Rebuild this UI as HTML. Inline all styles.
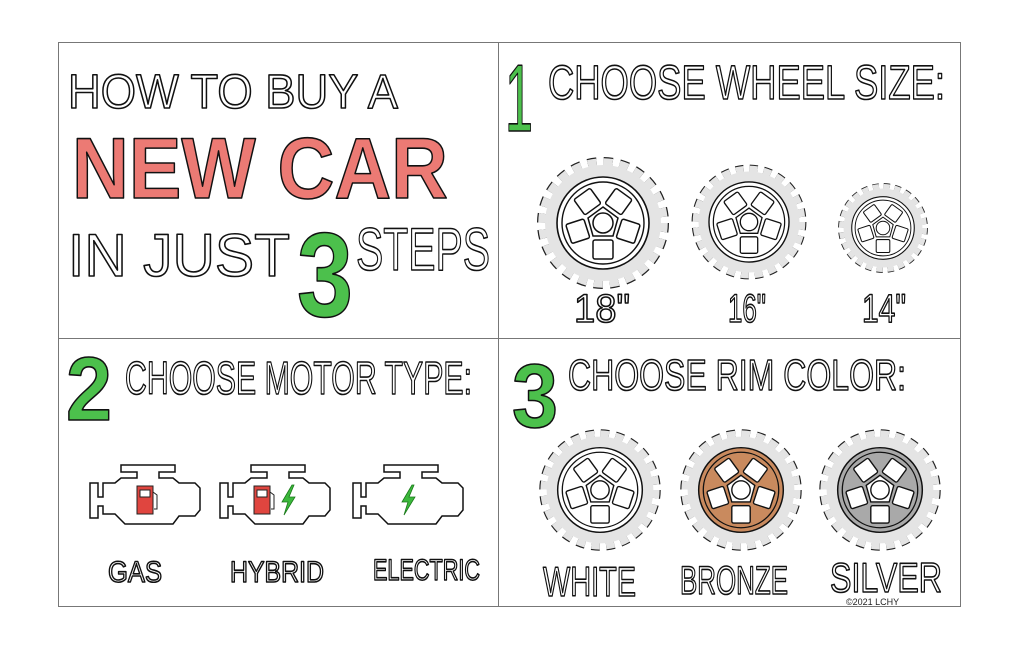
<!DOCTYPE html>
<html><head><meta charset="utf-8">
<style>
html,body{margin:0;padding:0;background:#fff;width:1023px;height:652px;overflow:hidden}
svg{display:block}
.t{font-family:"Liberation Sans Narrow","Liberation Sans",sans-serif;fill:#fff;stroke:#111;stroke-width:1.6;stroke-linejoin:round}
.r{fill:#ec7a74}
.g{fill:#4cc04c}
.s{font-family:"Liberation Sans",sans-serif;font-size:9px;fill:#222}
</style></head><body>
<svg width="1023" height="652" viewBox="0 0 1023 652" xmlns="http://www.w3.org/2000/svg">
<defs>
<g id="gear">
  <circle r="61" fill="none" stroke="#222" stroke-width="10" stroke-dasharray="9 7"/>
  <circle r="61" fill="none" stroke="#e4e4e4" stroke-width="7.5" stroke-dasharray="9 7"/>
  <circle r="58" fill="#e4e4e4"/>
</g>
<g id="spokes" fill="#fff" stroke="#111" stroke-width="1.5">
  <rect x="-10" y="17" width="20" height="19" rx="2"/>
  <rect x="-10" y="17" width="20" height="19" rx="2" transform="rotate(72)"/>
  <rect x="-10" y="17" width="20" height="19" rx="2" transform="rotate(144)"/>
  <rect x="-10" y="17" width="20" height="19" rx="2" transform="rotate(216)"/>
  <rect x="-10" y="17" width="20" height="19" rx="2" transform="rotate(288)"/>
  <polygon points="0,-16 15,-5 10,13 -10,13 -15,-5"/>
  <circle r="10"/>
</g>
<g id="wheel">
  <use href="#gear"/>
  <circle r="46" fill="#fff" stroke="#111" stroke-width="1.6"/>
  <circle r="41" fill="#fff" stroke="#111" stroke-width="1.4"/>
  <use href="#spokes"/>
</g>
<g id="wheelc">
  <use href="#gear"/>
  <circle r="46" fill="currentColor" stroke="#111" stroke-width="1.6"/>
  <circle r="41" fill="none" stroke="#111" stroke-width="1.4"/>
  <use href="#spokes"/>
</g>
<path id="eng" fill="#fff" stroke="#111" stroke-width="1.5" d="M-55,-15 L-55,20 L-47,20 L-47,8 L-42,8 L-42,16 L-30,16 L-20,26 L28,26 L34,18 L50,18 L55,12 L55,-10 L50,-15 L34,-15 L28,-20 L14,-20 L14,-26 L30,-26 L30,-33 L-24,-33 L-24,-26 L-8,-26 L-8,-20 L-24,-20 L-30,-15 L-42,-15 L-42,-1 L-47,-1 L-47,-15 Z"/>
<g id="pump"><rect x="-9" y="-14" width="16" height="28" fill="#e0453f" stroke="#222" stroke-width="1"/><rect x="-6" y="-10" width="10" height="7" fill="#fff" stroke="#222" stroke-width="1"/><path d="M7,-8 l4,3 v14 h-3" fill="none" stroke="#222" stroke-width="1"/></g>
<polygon id="bolt" points="4,-15 -6,2 0,2 -4,15 7,-3 1,-3 6,-15" fill="#3cb83c" stroke="#1a7a1a" stroke-width=".8"/>
</defs>

<rect x="58.5" y="42.5" width="902" height="564" fill="none" stroke="#777" stroke-width="1"/>
<line x1="498.5" y1="42" x2="498.5" y2="607" stroke="#777"/>
<line x1="58" y1="338.5" x2="961" y2="338.5" stroke="#777"/>

<text class="t" x="68" y="108" font-size="48" textLength="330" lengthAdjust="spacingAndGlyphs">HOW TO BUY A</text>
<text class="t r" x="72" y="198" font-size="86" font-weight="bold" textLength="376" lengthAdjust="spacingAndGlyphs" stroke-width="2">NEW CAR</text>
<text class="t" x="68" y="276" font-size="60" textLength="222" lengthAdjust="spacingAndGlyphs">IN JUST</text>
<text class="t g" x="297" y="316" font-size="120" font-weight="bold" textLength="56" lengthAdjust="spacingAndGlyphs" stroke-width="2">3</text>
<text class="t" x="356" y="270" font-size="60" textLength="134" lengthAdjust="spacingAndGlyphs">STEPS</text>

<text class="t g" x="505" y="131" font-size="96" textLength="28" lengthAdjust="spacingAndGlyphs" stroke-width="2">1</text>
<text class="t" x="548" y="99" font-size="48" textLength="397" lengthAdjust="spacingAndGlyphs">CHOOSE WHEEL SIZE:</text>
<use href="#wheel" transform="translate(603,223) scale(1)"/>
<use href="#wheel" transform="translate(749,222) scale(0.87)"/>
<use href="#wheel" transform="translate(883,228) scale(0.68)"/>
<text class="t" x="574" y="322" font-size="40" textLength="56" lengthAdjust="spacingAndGlyphs">18"</text>
<text class="t" x="728" y="322" font-size="40" textLength="38" lengthAdjust="spacingAndGlyphs">16"</text>
<text class="t" x="862" y="322" font-size="40" textLength="44" lengthAdjust="spacingAndGlyphs">14"</text>

<text class="t g" x="66" y="420" font-size="90" font-weight="bold" textLength="46" lengthAdjust="spacingAndGlyphs" stroke-width="2">2</text>
<text class="t" x="125" y="394" font-size="46" textLength="347" lengthAdjust="spacingAndGlyphs">CHOOSE MOTOR TYPE:</text>
<use href="#eng" transform="translate(145,498)"/>
<use href="#pump" transform="translate(146,500)"/>
<use href="#eng" transform="translate(275,498)"/>
<use href="#pump" transform="translate(263,500)"/>
<use href="#bolt" transform="translate(288,500)"/>
<use href="#eng" transform="translate(408,498)"/>
<use href="#bolt" transform="translate(408,500)"/>
<text class="t" x="108" y="582" font-size="30" textLength="54" lengthAdjust="spacingAndGlyphs">GAS</text>
<text class="t" x="230" y="582" font-size="30" textLength="94" lengthAdjust="spacingAndGlyphs">HYBRID</text>
<text class="t" x="373" y="580" font-size="30" textLength="107" lengthAdjust="spacingAndGlyphs">ELECTRIC</text>

<text class="t g" x="512" y="427" font-size="90" font-weight="bold" textLength="46" lengthAdjust="spacingAndGlyphs" stroke-width="2">3</text>
<text class="t" x="568" y="390" font-size="44" textLength="338" lengthAdjust="spacingAndGlyphs">CHOOSE RIM COLOR:</text>
<use href="#wheelc" transform="translate(600,490) scale(0.92)" color="#ffffff"/>
<use href="#wheelc" transform="translate(741,490) scale(0.92)" color="#c98a5e"/>
<use href="#wheelc" transform="translate(880,490) scale(0.92)" color="#a9a9a9"/>
<text class="t" x="543" y="596" font-size="42" textLength="93" lengthAdjust="spacingAndGlyphs">WHITE</text>
<text class="t" x="680" y="594" font-size="40" textLength="108" lengthAdjust="spacingAndGlyphs">BRONZE</text>
<text class="t" x="830" y="592" font-size="42" textLength="112" lengthAdjust="spacingAndGlyphs">SILVER</text>
<text class="s" x="846" y="605">©2021 LCHY</text>
</svg>
</body></html>
